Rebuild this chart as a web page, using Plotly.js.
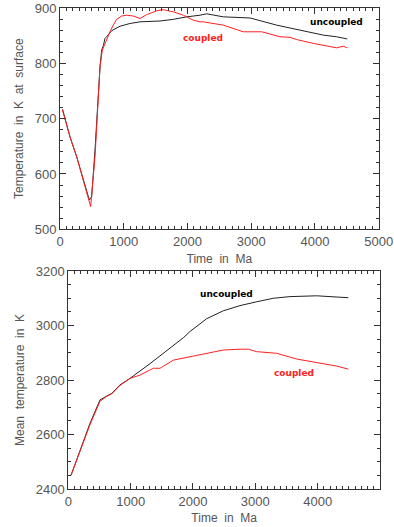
<!DOCTYPE html>
<html>
<head>
<meta charset="utf-8">
<script src="https://cdn.plot.ly/plotly-3.0.1.min.js"></script>
<style>html,body{margin:0;padding:0;background:#fff;}#chart{width:394px;height:527px;}</style>
</head>
<body>
<div id="chart"></div>
<script>
// Top panel: surface temperature (K) vs time (Ma)
const surfTimeUncoupled = [40,157,262,366,445,460,497,549,628,654,680,706,732,811,941,1098,1255,1569,1778,1988,2196,2301,2562,2981,3400,3608,3922,4131,4340,4507];
const surfTempUncoupled = [717,667,631,589,559,553,559,643,794,824,832,845,848,859,867,872,875,876.5,879.5,884,887,889.5,884,882,869,864,857,851,848,844];
const surfTimeCoupled = [37,157,262,366,445,481,549,628,664,706,784,836,889,967,1046,1150,1255,1360,1517,1621,1778,1934,2091,2196,2249,2562,2876,3164,3451,3608,3712,3974,4131,4340,4444,4507];
const surfTempCoupled = [716,667,631,589,559,541,631,794,824,836,857,869,879.5,885.5,887,885.5,881,888,895,897,893,887,878,875,875,869,857,857,848,847,843,836,833,828,831,828];

// Bottom panel: mean temperature (K) vs time (Ma)
const meanTimeUncoupled = [43,188,348,509,616,696,829,990,1311,1578,1845,1952,2113,2220,2487,2754,3022,3289,3556,3824,3984,4198,4492];
const meanTempUncoupled = [2450,2543,2641,2727,2741,2751,2782,2806,2860,2906,2955,2978,3008,3025,3054,3073,3087,3100,3106,3108,3109,3106,3102];
const meanTimeCoupled = [43,188,348,509,616,696,829,990,1150,1364,1471,1685,1899,2220,2487,2754,2888,3022,3343,3663,3824,4091,4305,4492];
const meanTempCoupled = [2450,2540,2636,2722,2740,2749,2780,2806,2818,2843,2843,2873,2883,2898,2910,2913,2913,2904,2898,2877,2871,2861,2851,2840];

const seriesNames = ["uncoupled", "coupled"];
const xTitle = "Time  in  Ma";
const yTitleTop = "Temperature  in  K  at  surface";
const yTitleBottom = "Mean  temperature  in  K";

const black = "#222222", red = "#ff2020";
const tickFont = {family: "Liberation Sans, Arial, sans-serif", size: 13, color: "#555"};
const titleFont = {family: "Liberation Sans, Arial, sans-serif", size: 12, color: "#555"};

function axisBase(extra) {
  return Object.assign({
    showgrid: false, zeroline: false, showline: true, linecolor: "#333", linewidth: 1,
    mirror: "allticks", ticks: "inside", ticklen: 6, tickcolor: "#333", tickwidth: 1,
    tickfont: tickFont, fixedrange: true
  }, extra);
}

const data = [
  {x: surfTimeUncoupled, y: surfTempUncoupled, xaxis: "x", yaxis: "y", mode: "lines", line: {color: black, width: 1}, name: seriesNames[0]},
  {x: surfTimeCoupled, y: surfTempCoupled, xaxis: "x", yaxis: "y", mode: "lines", line: {color: red, width: 1}, name: seriesNames[1]},
  {x: meanTimeUncoupled, y: meanTempUncoupled, xaxis: "x2", yaxis: "y2", mode: "lines", line: {color: black, width: 1}, name: seriesNames[0]},
  {x: meanTimeCoupled, y: meanTempCoupled, xaxis: "x2", yaxis: "y2", mode: "lines", line: {color: red, width: 1}, name: seriesNames[1]}
];

const W = 394, H = 527;
const layout = {
  width: W, height: H,
  margin: {l: 0, r: 0, t: 0, b: 0},
  paper_bgcolor: "#fff", plot_bgcolor: "#fff",
  showlegend: false,
  xaxis: axisBase({domain: [60/W, 378.7/W], range: [0, 5000], dtick: 1000, anchor: "y",
    minor: {ticks: "inside", dtick: 100, ticklen: 3, tickcolor: "#333"},
    title: {text: xTitle, font: titleFont, standoff: 6}}),
  yaxis: axisBase({domain: [(H-229.3)/H, (H-8)/H], range: [500, 900], dtick: 100, anchor: "x",
    minor: {ticks: "inside", dtick: 20, ticklen: 3, tickcolor: "#333"},
    title: {text: yTitleTop, font: titleFont, standoff: 8}}),
  xaxis2: axisBase({domain: [68.3/W, 380/W], range: [0, 5000], dtick: 1000, anchor: "y2",
    minor: {ticks: "inside", dtick: 100, ticklen: 3, tickcolor: "#333"},
    title: {text: xTitle, font: titleFont, standoff: 6}}),
  yaxis2: axisBase({domain: [(H-489)/H, (H-271)/H], range: [2400, 3200], dtick: 200, anchor: "x2",
    minor: {ticks: "inside", dtick: 50, ticklen: 3, tickcolor: "#333"},
    title: {text: yTitleBottom, font: titleFont, standoff: 8}}),
  annotations: [
    {xref: "x", yref: "y", x: 4341, y: 875, text: "<b>" + seriesNames[0] + "</b>", showarrow: false, font: {family: "DejaVu Sans", size: 9, color: "#000"}},
    {xref: "x", yref: "y", x: 2243, y: 845, text: "<b>" + seriesNames[1] + "</b>", showarrow: false, font: {family: "DejaVu Sans", size: 9, color: red}},
    {xref: "x2", yref: "y2", x: 2530, y: 3114, text: "<b>" + seriesNames[0] + "</b>", showarrow: false, font: {family: "DejaVu Sans", size: 9, color: "#000"}},
    {xref: "x2", yref: "y2", x: 3620, y: 2827, text: "<b>" + seriesNames[1] + "</b>", showarrow: false, font: {family: "DejaVu Sans", size: 9, color: red}}
  ]
};

Plotly.newPlot("chart", data, layout, {staticPlot: true, displayModeBar: false});
</script>
</body>
</html>
